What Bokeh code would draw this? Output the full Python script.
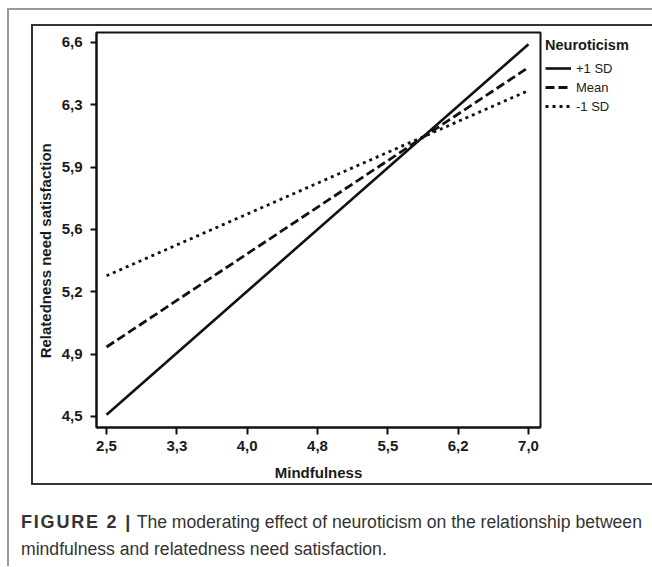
from bokeh.plotting import figure
from bokeh.models import Range1d, FixedTicker, Legend, LegendItem, Div
from bokeh.layouts import column
from bokeh.embed import file_html
from bokeh.resources import INLINE

# ---- data ----
mindfulness = [2.5, 7.0]
plus_1sd = [4.51, 6.59]
mean_n = [4.89, 6.46]
minus_1sd = [5.29, 6.33]

x_ticks = [2.5, 3.25, 4.0, 4.75, 5.5, 6.25, 7.0]
x_tick_labels = ["2,5", "3,3", "4,0", "4,8", "5,5", "6,2", "7,0"]
y_ticks = [4.5, 4.85, 5.2, 5.55, 5.9, 6.25, 6.6]
y_tick_labels = ["4,5", "4,9", "5,2", "5,6", "5,9", "6,3", "6,6"]

series_labels = ["+1 SD", "Mean", "-1 SD"]
legend_title = "Neuroticism"
x_label = "Mindfulness"
y_label = "Relatedness need satisfaction"
caption_bold = "FIGURE 2 |"
caption_line1 = "The moderating effect of neuroticism on the relationship between"
caption_line2 = "mindfulness and relatedness need satisfaction."

FONT = "Liberation Sans"

p = figure(frame_width=444, frame_height=395, output_backend="svg",
           toolbar_location=None,
           x_range=Range1d(2.393, 7.128), y_range=Range1d(4.438, 6.656),
           min_border_left=63, min_border_right=95, min_border_top=6,
           min_border_bottom=55)
p.grid.visible = False
p.outline_line_color = "#111111"
p.outline_line_width = 2
p.background_fill_color = "white"
p.border_fill_color = "white"

p.xaxis.ticker = FixedTicker(ticks=x_ticks)
p.yaxis.ticker = FixedTicker(ticks=y_ticks)
p.xaxis.major_label_overrides = dict(zip(x_ticks, x_tick_labels))
p.yaxis.major_label_overrides = dict(zip(y_ticks, y_tick_labels))

for ax in (p.xaxis, p.yaxis):
    ax.axis_line_width = 2
    ax.axis_line_color = "#111111"
    ax.major_tick_line_width = 2
    ax.major_tick_line_color = "#111111"
    ax.major_tick_in = 0
    ax.minor_tick_line_color = None
    ax.major_label_text_font = FONT
    ax.major_label_text_font_style = "bold"
    ax.major_label_text_font_size = "15px"
    ax.major_label_text_color = "#1a1a1a"
    ax.axis_label_text_font = FONT
    ax.axis_label_text_font_style = "bold"
    ax.axis_label_text_font_size = "15px"
    ax.axis_label_text_color = "#1a1a1a"

p.xaxis.axis_label = x_label
# trailing no-break spaces shift the centred label slightly downwards, as in the original
p.yaxis.axis_label = y_label + "\u00a0" * 10
p.xaxis.major_tick_out = 7
p.yaxis.major_tick_out = 6
p.xaxis.major_label_standoff = 6
p.yaxis.major_label_standoff = 8
p.xaxis.axis_label_standoff = 10
p.yaxis.axis_label_standoff = 5

r1 = p.line(mindfulness, plus_1sd, line_color="#111111", line_width=2.6)
r2 = p.line(mindfulness, mean_n, line_color="#111111", line_width=2.8, line_dash="9 4")
r3 = p.line(mindfulness, minus_1sd, line_color="#111111", line_width=2.8, line_dash="3 4")

legend = Legend(items=[LegendItem(label=series_labels[0], renderers=[r1]),
                       LegendItem(label=series_labels[1], renderers=[r2]),
                       LegendItem(label=series_labels[2], renderers=[r3])],
                location="top_left", title=legend_title)
legend.title_text_font = FONT
legend.title_text_font_style = "bold"
legend.title_text_font_size = "14.5px"
legend.title_text_color = "#1a1a1a"
legend.title_standoff = 7
legend.label_text_font = FONT
legend.label_text_font_size = "13px"
legend.label_text_color = "#222222"
legend.glyph_width = 26
legend.glyph_height = 16
legend.label_height = 16
legend.spacing = 3
legend.padding = 0
legend.margin = 5
legend.label_standoff = 5
legend.border_line_color = None
legend.background_fill_alpha = 0
p.add_layout(legend, "right")

boxed = column(p, styles={"border": "2px solid #333333", "background": "white"},
               margin=(14, 0, 0, 22))

caption_html = (f'<span style="font-weight:bold;font-size:18px;letter-spacing:1.8px">'
                f'{caption_bold}</span> {caption_line1}<br>{caption_line2}')
caption = Div(text=caption_html, width=630, height=57, margin=(24, 0, 0, 12),
              styles={"font-family": FONT, "font-size": "17.6px", "color": "#333333",
                      "line-height": "27px", "white-space": "nowrap"})

root = column(boxed, caption, margin=(8, 0, 0, 7),
              styles={"border-left": "2px solid #999999",
                      "border-top": "2px solid #999999",
                      "background": "white"})

open("out.html", "w").write(file_html(root, INLINE))
